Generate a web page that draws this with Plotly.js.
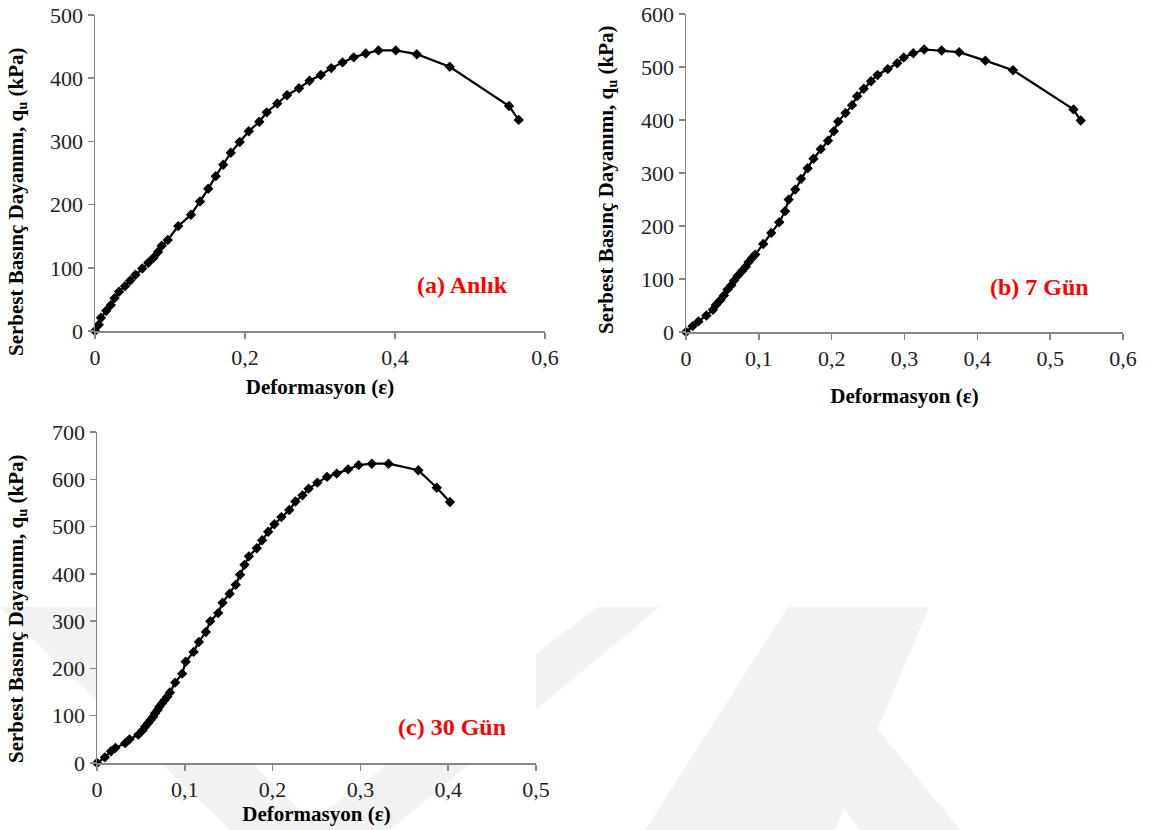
<!DOCTYPE html>
<html>
<head>
<meta charset="utf-8">
<script src="https://cdn.plot.ly/plotly-3.0.1.min.js"></script>
<style>html,body{margin:0;padding:0;background:#fff;}#chart{width:1152px;height:830px;}</style>
</head>
<body>
<div id="chart"></div>
<script>
// (a) Anlık
const aX = [0,0.005,0.008,0.015,0.021,0.026,0.032,0.040,0.047,0.054,0.063,0.071,0.078,0.084,0.089,0.097,0.111,0.128,0.140,0.151,0.161,0.171,0.181,0.193,0.205,0.219,0.229,0.243,0.256,0.272,0.286,0.301,0.315,0.330,0.345,0.361,0.378,0.401,0.429,0.473,0.552,0.565];
const aY = [0,10,21,32,41,52,62,71,80,89,99,108,116,125,135,144,166,184,205,225,245,263,282,299,316,331,346,360,373,384,396,405,416,425,433,439,444,444,438,418,356,334];
// (b) 7 Gün
const bX = [0,0.009,0.017,0.028,0.037,0.041,0.047,0.052,0.057,0.062,0.066,0.071,0.077,0.082,0.086,0.091,0.095,0.106,0.117,0.128,0.136,0.141,0.150,0.158,0.167,0.175,0.185,0.195,0.203,0.209,0.219,0.228,0.235,0.244,0.254,0.263,0.277,0.290,0.299,0.312,0.327,0.351,0.375,0.411,0.449,0.532,0.542];
const bY = [0,11,20,31,42,51,60,69,80,88,97,106,115,123,132,140,146,166,187,207,228,250,269,289,309,327,345,361,379,397,413,428,445,459,473,485,496,507,518,526,533,531,528,512,494,420,399];
// (c) 30 Gün
const cX = [0,0.009,0.016,0.021,0.032,0.037,0.047,0.052,0.055,0.058,0.061,0.064,0.066,0.069,0.071,0.074,0.077,0.080,0.083,0.089,0.097,0.101,0.110,0.116,0.124,0.129,0.138,0.143,0.151,0.158,0.163,0.168,0.173,0.182,0.188,0.195,0.202,0.210,0.219,0.226,0.234,0.241,0.251,0.262,0.273,0.286,0.298,0.313,0.332,0.366,0.387,0.402];
const cY = [0,12,25,32,42,50,60,69,77,84,91,98,105,112,119,126,133,140,149,170,189,214,235,256,277,300,317,339,358,377,398,419,437,454,471,489,505,520,535,553,566,580,593,605,612,621,630,633,633,619,582,552];

const panelLabels = ['(a) Anlık', '(b) 7 Gün', '(c) 30 Gün'];
const xTitle = '<b>Deformasyon (ε)</b>';
const yTitle = '<b>Serbest Basınç Dayanımı, q<sub>u</sub> (kPa)</b>';

const W = 1152, H = 830;
const FONT = 'Liberation Serif, Times New Roman, serif';
const px = v => v / W;
const py = v => 1 - v / H;

function tr(x, y, xa, ya) {
  return {
    x: x, y: y, xaxis: xa, yaxis: ya, type: 'scatter', mode: 'lines+markers',
    line: {color: '#000', width: 2.2},
    marker: {symbol: 'diamond', size: 8, color: '#000'},
    cliponaxis: false, showlegend: false, hoverinfo: 'x+y'
  };
}

const axisStyle = {
  showline: true, linecolor: '#868686', linewidth: 1.5,
  ticks: 'outside', ticklen: 6, tickwidth: 1.5, tickcolor: '#868686',
  showgrid: false, zeroline: false, ticklabeloverflow: 'allow',
  tickfont: {family: FONT, size: 22, color: '#222'}
};
function xax(domain, range, dtick, standoff, anchor) {
  return Object.assign({}, axisStyle, {
    domain: domain, range: range, dtick: dtick, tick0: 0, anchor: anchor,
    title: {text: xTitle, font: {family: FONT, size: 21, color: '#000'}, standoff: standoff}
  });
}
function yax(domain, range, dtick, anchor) {
  return Object.assign({}, axisStyle, {
    domain: domain, range: range, dtick: dtick, tick0: 0, anchor: anchor
  });
}

function poly(pts) {
  return pts.map((p, i) => (i ? 'L' : 'M') + px(p[0]).toFixed(4) + ',' + py(p[1]).toFixed(4)).join(' ') + ' Z';
}
const wmShapes = [
  [[0,607],[93,607],[320,830],[230,830]],
  [[598,607],[660,607],[390,830],[300,830]],
  [[788,607],[929,607],[835,830],[645,830]],
  [[790,735],[850,695],[960,830],[860,830]]
].map(p => ({type: 'path', xref: 'paper', yref: 'paper', layer: 'below', path: poly(p),
  fillcolor: '#f2f2f2', line: {width: 0}}));
// white plot area of panel (c) drawn over the watermark
wmShapes.push({type: 'rect', xref: 'paper', yref: 'paper', layer: 'below',
  x0: px(97), x1: px(536), y0: py(763), y1: py(432), fillcolor: '#fff', line: {width: 0}});

function ann(text, x, y) {
  return {text: '<b>' + text + '</b>', xref: 'paper', yref: 'paper', x: px(x), y: py(y),
    xanchor: 'center', yanchor: 'middle', showarrow: false,
    font: {family: FONT, size: 24, color: '#ff0000'}};
}
function ytitle(x, y) {
  return {text: yTitle, xref: 'paper', yref: 'paper', x: px(x), y: py(y), textangle: -90,
    xanchor: 'center', yanchor: 'middle', showarrow: false,
    font: {family: FONT, size: 21, color: '#000'}};
}

const layout = {
  width: W, height: H,
  margin: {l: 0, r: 0, t: 0, b: 0},
  paper_bgcolor: '#fff', plot_bgcolor: '#fff',
  separators: ', ',
  font: {family: FONT, color: '#000'},
  xaxis: xax([px(95), px(545)], [0, 0.6], 0.2, 10, 'y'),
  yaxis: yax([py(331), py(15)], [0, 500], 100, 'x'),
  xaxis2: xax([px(686), px(1123)], [0, 0.6], 0.1, 18, 'y2'),
  yaxis2: yax([py(332), py(14)], [0, 600], 100, 'x2'),
  xaxis3: xax([px(97), px(536)], [0, 0.5], 0.1, 0, 'y3'),
  yaxis3: yax([py(763), py(432)], [0, 700], 100, 'x3'),
  shapes: wmShapes,
  annotations: [
    ann(panelLabels[0], 462, 285), ann(panelLabels[1], 1039, 287), ann(panelLabels[2], 452, 727),
    ytitle(17, 202), ytitle(607, 180), ytitle(17, 609)
  ]
};

Plotly.newPlot('chart', [tr(aX, aY, 'x', 'y'), tr(bX, bY, 'x2', 'y2'), tr(cX, cY, 'x3', 'y3')], layout, {displayModeBar: false, staticPlot: true});
</script>
</body>
</html>
